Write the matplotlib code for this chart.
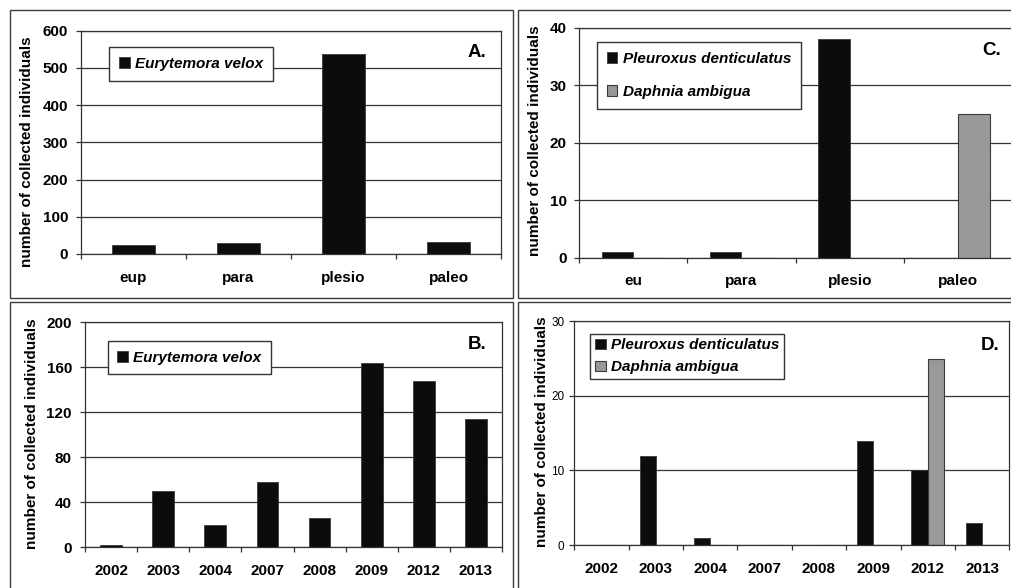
import numpy as np
import matplotlib
matplotlib.use("Agg")
import matplotlib.pyplot as plt
from matplotlib.patches import Rectangle

plt.rcParams['font.family'] = ['Liberation Sans', 'DejaVu Sans']

# Data
zones_a = ['eup', 'para', 'plesio', 'paleo']
eurytemora_zone = [24, 30, 538, 32]

years = ['2002', '2003', '2004', '2007', '2008', '2009', '2012', '2013']
eurytemora_year = [2, 50, 20, 58, 26, 164, 148, 114]

zones_c = ['eu', 'para', 'plesio', 'paleo']
pleuroxus_zone = [1, 1, 38, 0]
daphnia_zone = [0, 0, 0, 25]

pleuroxus_year = [0, 12, 1, 0, 0, 14, 10, 3]
daphnia_year = [0, 0, 0, 0, 0, 0, 25, 0]

ylabel = 'number of collected individuals'
W, H = 1011, 588

fig = plt.figure(figsize=(W / 100, H / 100), dpi=100)


# helpers working in pixel coordinates of the picture
def fpt(x, y):
    return (x / W, 1 - y / H)


def add_ax(l, t, r, b):
    return fig.add_axes([l / W, 1 - b / H, (r - l) / W, (b - t) / H])


def style(ax, cats, ymax, ystep, ypad, ybold=True, ysize=11):
    n = len(cats)
    ax.set_xlim(-0.5, n - 0.5)
    ax.set_ylim(0, ymax)
    yt = np.arange(0, ymax + 1, ystep)
    ax.set_yticks(yt, [str(int(v)) for v in yt],
                  fontweight='bold' if ybold else 'normal', fontsize=ysize)
    ax.set_xticks(np.arange(n + 1) - 0.5, [''] * (n + 1))
    ax.set_xticks(np.arange(n), cats, minor=True, fontweight='bold', fontsize=11)
    ax.tick_params(axis='x', which='minor', length=0, pad=12)
    ax.tick_params(axis='x', which='major', length=3.6, width=0.9, color='#333333')
    ax.tick_params(axis='y', length=3.6, width=0.9, color='#333333', pad=ypad)
    ax.yaxis.grid(True, color='#333333', lw=0.9)
    ax.set_axisbelow(True)
    for s in ax.spines.values():
        s.set_color('#333333')
        s.set_linewidth(0.9)


def legend(ax, handles, labels, x, y, pad, spacing=0.5):
    ax.legend(handles, labels, loc='upper left', bbox_to_anchor=fpt(x, y),
              bbox_transform=fig.transFigure, borderaxespad=0, fancybox=False,
              edgecolor='#333333', framealpha=1, handlelength=0.7, handleheight=0.7,
              handletextpad=0.35, borderpad=pad, labelspacing=spacing,
              prop={'weight': 'bold', 'style': 'italic', 'size': 11})


black = '#0c0c0c'
grey = '#999999'
edge = '#3a3a3a'

# panel frames
for l, t, r, b in [(9.5, 10, 513, 298), (518, 10, 1020, 298),
                   (9.5, 302, 513, 600), (518, 302, 1020, 600)]:
    fig.add_artist(Rectangle(fpt(l, b), (r - l) / W, (b - t) / H,
                             transform=fig.transFigure, fill=False,
                             ec='#3c3c3c', lw=1))

# A. Eurytemora velox by zone
ax = add_ax(81, 30.7, 501, 254)
x = np.arange(len(zones_a))
bars = ax.bar(x, eurytemora_zone, 0.41, color=black, edgecolor=edge, lw=0.6)
style(ax, zones_a, 600, 100, 5.5)
ax.set_ylabel(ylabel, fontweight='bold', fontsize=11, va='center')
ax.yaxis.set_label_coords(*fpt(26.7, 152), transform=fig.transFigure)
legend(ax, [bars], ['Eurytemora velox'], 109, 46.7, 0.65)
fig.text(*fpt(477, 57), 'A.', fontsize=13.5, fontweight='bold', ha='center', va='baseline')

# C. Pleuroxus / Daphnia by zone
ax = add_ax(579, 27.7, 1012.3, 257.7)
x = np.arange(len(zones_c))
w = 0.29
b1 = ax.bar(x - w / 2, pleuroxus_zone, w, color=black, edgecolor=edge, lw=0.6)
b2 = ax.bar(x + w / 2, daphnia_zone, w, color=grey, edgecolor=edge, lw=0.8)
style(ax, zones_c, 40, 10, 5.3)
ax.set_ylabel(ylabel, fontweight='bold', fontsize=11, va='center')
ax.yaxis.set_label_coords(*fpt(535, 141), transform=fig.transFigure)
legend(ax, [b1, b2], ['Pleuroxus denticulatus', 'Daphnia ambigua'], 596.7, 41.7, 0.66, 1.25)
fig.text(*fpt(991.7, 55), 'C.', fontsize=13.5, fontweight='bold', ha='center', va='baseline')

# B. Eurytemora velox by year
ax = add_ax(85.3, 322.3, 501.7, 547.3)
x = np.arange(len(years))
bars = ax.bar(x, eurytemora_year, 0.42, color=black, edgecolor=edge, lw=0.6)
style(ax, years, 200, 40, 6)
ax.set_ylabel(ylabel, fontweight='bold', fontsize=11, va='center')
ax.yaxis.set_label_coords(*fpt(31.7, 434), transform=fig.transFigure)
legend(ax, [bars], ['Eurytemora velox'], 107.7, 341.3, 0.62)
fig.text(*fpt(476.7, 349), 'B.', fontsize=13.5, fontweight='bold', ha='center', va='baseline')

# D. Pleuroxus / Daphnia by year
ax = add_ax(574.3, 321.3, 1009.3, 545)
x = np.arange(len(years))
w = 0.3
b1 = ax.bar(x - w / 2, pleuroxus_year, w, color=black, edgecolor=edge, lw=0.6)
b2 = ax.bar(x + w / 2, daphnia_year, w, color=grey, edgecolor=edge, lw=0.8)
style(ax, years, 30, 10, 3.6, ybold=False, ysize=8.5)
ax.set_ylabel(ylabel, fontweight='bold', fontsize=11, va='center')
ax.yaxis.set_label_coords(*fpt(541.7, 431.3), transform=fig.transFigure)
legend(ax, [b1, b2], ['Pleuroxus denticulatus', 'Daphnia ambigua'], 590.3, 333.7, 0.3, 0.53)
fig.text(*fpt(990.5, 349.7), 'D.', fontsize=13.5, fontweight='bold', ha='center', va='baseline')

fig.savefig('out.png', dpi=100, facecolor='white')
